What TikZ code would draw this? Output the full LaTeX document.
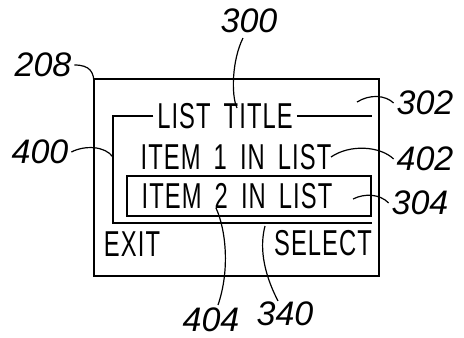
\documentclass[tikz,border=0pt]{standalone}
\usepackage{fontspec}
\setmainfont{Liberation Sans}
\newfontfamily\scrfont[FakeStretch=0.66,LetterSpace=3,WordSpace=1.7]{Liberation Sans}
\tikzset{
  scr/.style={font=\scrfont\fontsize{18}{20}\selectfont,inner sep=1.5pt},
  ref/.style={font=\itshape\fontsize{17}{19}\selectfont,inner sep=1pt},
  lead/.style={line width=0.6pt}
}
\begin{document}
\begin{tikzpicture}
[x=0.5pt,y=-0.5pt,line width=1pt]
\useasboundingbox (0,0) rectangle (464,337);

% screen 208
\draw (94,79) rectangle (379,276);

% list 400 with title 302
\node[scr] (title) at (225,116) {LIST TITLE};
\draw (title.west) -| (113,223) -- (372,223);
\draw (title.east) -- (372,116);
\node[scr] (item1) at (236,157) {ITEM 1 IN LIST};

% highlighted item 304
\draw (127,176) rectangle (371,216);
\node[scr] (item2) at (237,196) {ITEM 2 IN LIST};

% soft keys
\node[scr] (exit) at (132,244) {EXIT};
\node[scr] (select) at (323,243) {SELECT};

% reference numerals
\node[ref] (n208) at (43,65) {208};
\node[ref] (n300) at (249,21) {300};
\node[ref] (n302) at (425,103) {302};
\node[ref] (n400) at (40,152) {400};
\node[ref] (n402) at (425,159) {402};
\node[ref] (n304) at (420,203) {304};
\node[ref] (n404) at (211,320) {404};
\node[ref] (n340) at (285,314) {340};

\coordinate (c208) at (94,84);
\coordinate (c300) at (237,108);
\coordinate (c302) at (357,102);
\coordinate (c400) at (113,157);
\coordinate (c402) at (331,157);
\coordinate (c304) at (353,199);
\coordinate (c404) at (216,208);
\coordinate (c340) at (265,226);

\draw[lead] (n208.east) .. controls (90,65) and (94,72) .. (c208);
\draw[lead] (n300.south) ++(-6,2) .. controls (232,60) and (231,95) .. (c300);
\draw[lead] (n302.west) .. controls (385,95) and (370,94) .. (c302);
\draw[lead] (n400.east) .. controls (85,145) and (105,146) .. (c400);
\draw[lead] (n402.west) .. controls (380,146) and (350,144) .. (c402);
\draw[lead] (n304.west) .. controls (380,194) and (365,193) .. (c304);
\draw[lead] (n404.north) ++(7,0) .. controls (230,270) and (226,230) .. (c404);
\draw[lead] (n340.north) ++(-7,2) .. controls (262,270) and (260,245) .. (c340);
\end{tikzpicture}
\end{document}
